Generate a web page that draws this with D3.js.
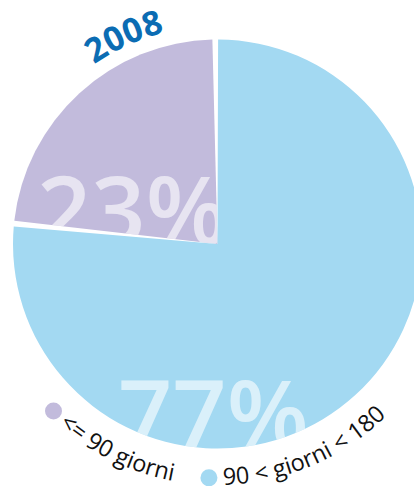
<!DOCTYPE html>
<html>
<head>
<meta charset="utf-8">
<script src="https://cdn.jsdelivr.net/npm/d3@7"></script>
<style>
  html, body { margin: 0; padding: 0; background: #fff; overflow: hidden; }
  svg { display: block; }
</style>
</head>
<body>
<svg id="chart" width="414" height="486"></svg>
<script>
// Share of cases by duration, 2008
const categories = ["<= 90 giorni", "90 < giorni < 180"];
const values = [23, 77];
const valueLabels = ["23%", "77%"];
const sliceColors = ["#c2bbdc", "#a3d9f2"];
const yearLabel = "2008";

const width = 414, height = 486;
const cx = 217.5, cy = 244, R = 204.5;
const deg = Math.PI / 180;

const svg = d3.select("#chart");
const defs = svg.append("defs");
const g = svg.append("g").attr("transform", `translate(${cx},${cy})`);

// pie starts just left of 12 o'clock so the small slice sits in the top-left quadrant
const start = -84.3 * deg;
const pie = d3.pie()
  .sort(null)
  .value(d => d)
  .startAngle(start)
  .endAngle(start + 2 * Math.PI)
  .padAngle(0.028);
const arcs = pie(values);
const arc = d3.arc().innerRadius(0).outerRadius(R);

// big translucent percentage labels, each kept inside its own slice
const labelPos = [[-180.5, 0], [-99.5, 204]];

arcs.forEach((a, i) => {
  defs.append("clipPath").attr("id", "slice-clip-" + i)
    .append("path").attr("d", arc(a));

  g.append("path")
    .attr("d", arc(a))
    .attr("fill", sliceColors[i]);

  g.append("text")
    .attr("clip-path", `url(#slice-clip-${i})`)
    .attr("x", labelPos[i][0])
    .attr("y", labelPos[i][1])
    .attr("font-family", "'Open Sans', sans-serif")
    .attr("font-weight", 600)
    .attr("font-size", 95)
    .attr("fill", "#ffffff")
    .attr("fill-opacity", 0.6)
    .text(valueLabels[i]);
});

// circular guide paths for text set around the pie (angles in degrees, screen orientation)
function ringPath(r, a0, a1) {
  const x0 = r * Math.cos(a0 * deg), y0 = r * Math.sin(a0 * deg);
  const x1 = r * Math.cos(a1 * deg), y1 = r * Math.sin(a1 * deg);
  const sweep = a1 > a0 ? 1 : 0;
  const large = Math.abs(a1 - a0) > 180 ? 1 : 0;
  return `M${x0},${y0}A${r},${r} 0 ${large} ${sweep} ${x1},${y1}`;
}

// year title curving over the top-left of the pie
defs.append("path").attr("id", "year-path").attr("d", ringPath(218, -124.5, -90));
g.append("text")
  .attr("font-family", "'Open Sans', sans-serif")
  .attr("font-weight", 700)
  .attr("font-size", 34)
  .attr("fill", "#0b6cb3")
  .append("textPath")
  .attr("href", "#year-path")
  .text(yearLabel);

// legend curving under the pie
const legendDotAngle = [134.5, 92.1];
const legendTextArc = [[131.3, 96], [88.6, 25]];
categories.forEach((c, i) => {
  g.append("circle")
    .attr("cx", 234 * Math.cos(legendDotAngle[i] * deg))
    .attr("cy", 234 * Math.sin(legendDotAngle[i] * deg))
    .attr("r", 8.5)
    .attr("fill", sliceColors[i]);

  defs.append("path").attr("id", "legend-path-" + i)
    .attr("d", ringPath(241, legendTextArc[i][0], legendTextArc[i][1]));
  g.append("text")
    .attr("font-family", "'Open Sans', sans-serif")
    .attr("font-size", 23.5)
    .attr("fill", "#111111")
    .append("textPath")
    .attr("href", "#legend-path-" + i)
    .text(c);
});
</script>
</body>
</html>
